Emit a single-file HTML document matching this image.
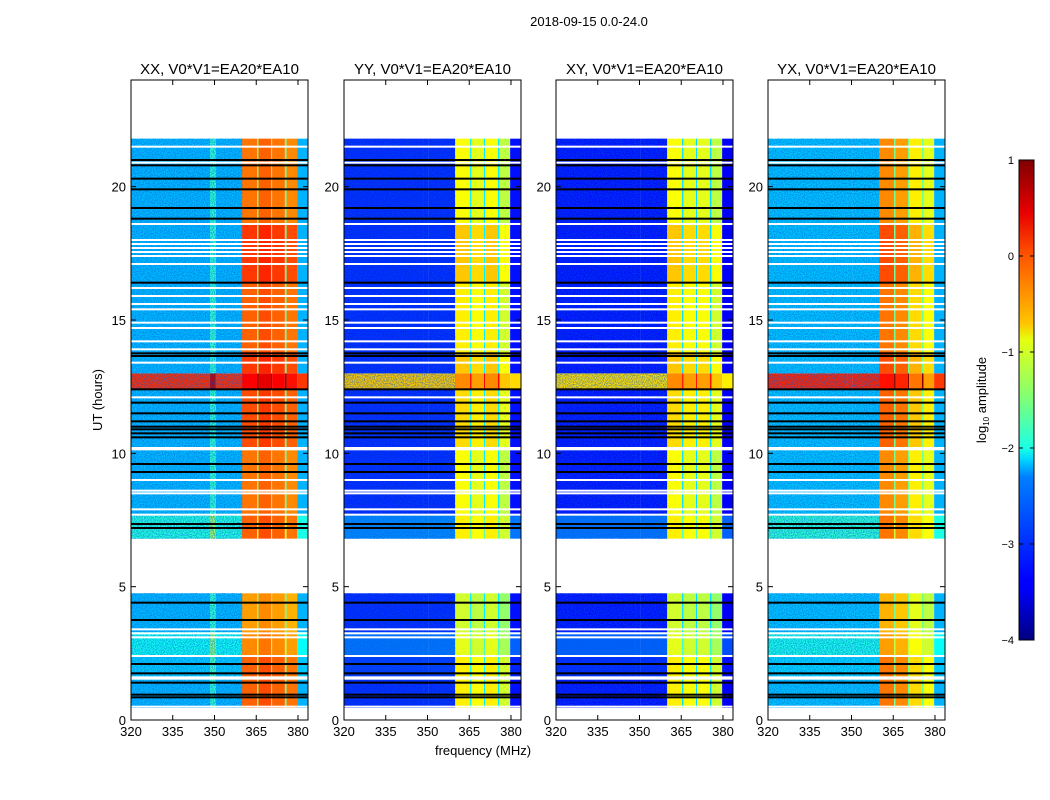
<!DOCTYPE html>
<html><head><meta charset="utf-8"><style>
body{margin:0;background:#fff;}
svg{display:block;font-family:"Liberation Sans","DejaVu Sans",sans-serif;}
</style></head><body>
<svg id="fig" width="1050" height="800" viewBox="0 0 1050 800" xmlns="http://www.w3.org/2000/svg">
<defs>
<filter id="speckle" x="0" y="0" width="100%" height="100%">
<feTurbulence type="fractalNoise" baseFrequency="0.9" numOctaves="1" seed="3"/>
<feColorMatrix type="matrix" values="0 0 0 0 0  0 0 0 0 0.1  0 0 0 0 0.7  0 0 0 -3 1.9"/>
</filter>
<linearGradient id="jetgrad" x1="0" y1="1" x2="0" y2="0">
<stop offset="0" stop-color="#00007f"/><stop offset="0.11" stop-color="#0000ff"/>
<stop offset="0.125" stop-color="#0000ff"/><stop offset="0.34" stop-color="#0080ff"/>
<stop offset="0.375" stop-color="#00d4ff"/><stop offset="0.4" stop-color="#1affe6"/>
<stop offset="0.5" stop-color="#7dff7a"/><stop offset="0.625" stop-color="#e6ff11"/>
<stop offset="0.66" stop-color="#ffc400"/><stop offset="0.8" stop-color="#ff5500"/>
<stop offset="0.89" stop-color="#e80000"/><stop offset="1" stop-color="#7f0000"/>
</linearGradient>
</defs>
<text x="589" y="26" font-size="13" text-anchor="middle">2018-09-15 0.0-24.0</text>
<text x="483" y="755" font-size="13" text-anchor="middle">frequency (MHz)</text>
<text transform="translate(102,400) rotate(-90)" font-size="13" text-anchor="middle">UT (hours)</text>
<g id="panels"></g>
<g id="cbar">
<rect x="1019" y="160" width="15" height="480" fill="url(#jetgrad)" stroke="#000" stroke-width="1"/>
<text transform="translate(986,400) rotate(-90)" font-size="13" text-anchor="middle">log<tspan font-size="8" dy="3">10</tspan><tspan dy="-3"> amplitude</tspan></text>
</g>
</svg>
<script>
// ---- data ----
const panelTitles = ["XX, V0*V1=EA20*EA10","YY, V0*V1=EA20*EA10","XY, V0*V1=EA20*EA10","YX, V0*V1=EA20*EA10"];
const xTicks = [320,335,350,365,380];
const yTicks = [0,5,10,15,20];
const cbarTicks = [1,0,-1,-2,-3,-4];
// frequency columns [start MHz, end MHz]
const colStart = [320, 348.4, 350.5, 359.9, 365.3, 365.8, 370.3, 370.7, 375.3, 375.9, 379.7];
const colEnd   = [348.4, 350.5, 359.9, 365.3, 365.8, 370.3, 370.7, 375.3, 375.9, 379.7, 383.6];
const colIsBand = [0,0,0,1,0,1,0,1,0,1,0];
// per-panel column levels (log10 amplitude)
const levelsXX = [-2.45, -1.9, -2.45, -0.2, -1.5, -0.1, -1.6, -0.2, -1.6, -0.3, -2.5];
const levelsYY = [-3.2, -3.2, -3.2, -0.9, -2.2, -1.0, -2.2, -0.9, -2.2, -1.2, -3.3];
const levelsXY = [-3.3, -3.3, -3.3, -0.9, -2.3, -1.0, -2.3, -1.0, -2.3, -1.2, -3.4];
const levelsYX = [-2.4, -2.4, -2.4, -0.3, -1.6, -0.4, -1.6, -0.8, -1.6, -1.0, -2.5];
// time segments [hours] and offsets
const segStart  = [0.45, 1.5, 2.4, 3.3, 6.8, 7.7, 9.0, 10.2, 12.4, 13.0, 13.8, 16.4, 18.6];
const segEnd    = [1.5, 2.4, 3.3, 4.75, 7.7, 9.0, 10.2, 12.4, 13.0, 13.8, 16.4, 18.6, 21.8];
const segBgOff  = [0, 0.1, 0.4, 0, 0.5, 0, 0, 0, 2.6, 0, 0, 0, 0];
const segBandOff= [0.1, 0.1, -0.1, -0.2, 0.1, 0, 0, 0.2, 0.6, 0.3, 0.1, 0.3, 0];
// flagged rows
const whiteLines = [21.5,20.9,18.6,18.0,17.85,17.7,17.55,17.4,17.1,16.2,15.9,15.6,15.4,14.9,14.7,14.2,13.9,13.4,12.1,10.2,10.15,9.0,8.6,8.5,7.9,7.7,3.4,3.25,3.1,2.4,1.6,1.55,0.5];
const blackLines = [21.0,20.8,20.3,19.9,19.2,18.8,16.4,13.75,13.65,12.4,11.9,11.5,11.2,11.0,10.9,10.75,10.6,9.6,9.3,7.35,7.2,4.4,3.75,2.1,1.75,1.4,0.95,0.85];

const panelX = [131,344,556,768];
const PW = 177, PT = 80, PB = 720;
const allLevels = [levelsXX, levelsYY, levelsXY, levelsYX];
const NS = "http://www.w3.org/2000/svg";
function xs(p, f){ return panelX[p] + (f-320)*PW/63.6; }
function ys(h){ return PB - h*(PB-PT)/24; }
function jet(v){
  let t = Math.max(0, Math.min(1, (v+4)/5));
  const c = x => Math.round(255*Math.max(0, Math.min(1, 1.5 - Math.abs(4*t - x))));
  return `rgb(${c(3)},${c(2)},${c(1)})`;
}
function mk(tag, attrs, parent){
  const e = document.createElementNS(NS, tag);
  for (const k in attrs) e.setAttribute(k, attrs[k]);
  parent.appendChild(e); return e;
}
const root = document.getElementById('panels');
for (let p=0;p<4;p++){
  const g = mk('g',{},root);
  
  
  const hm = mk('g',{},g);
  
  
  const lv = allLevels[p];
  for (let s=0;s<segStart.length;s++){
    for (let c=0;c<colStart.length;c++){
      const v = lv[c] + (colIsBand[c] ? segBandOff[s] : segBgOff[s]);
      const x0 = xs(p,colStart[c]), x1 = xs(p,colEnd[c]);
      const y0 = ys(segEnd[s]), y1 = ys(segStart[s]);
      const r = mk('rect',{x:x0,y:y0,width:x1-x0,height:y1-y0,fill:jet(v)},hm);
      
      
    }
    const nz = mk('rect',{x:xs(p,320),y:ys(segEnd[s]),width:xs(p,359.9)-xs(p,320),height:ys(segStart[s])-ys(segEnd[s]),filter:'url(#speckle)',opacity:0.55},hm);
    
    
  }
  for (const h of whiteLines){
    const l = mk('rect',{x:panelX[p],y:ys(h)-1,width:PW,height:2,fill:'#fff'},hm);
    
    
  }
  for (const h of blackLines){
    const l = mk('rect',{x:panelX[p],y:ys(h)-1,width:PW,height:2,fill:'#000'},hm);
    
    
  }
  const frame = mk('rect',{x:panelX[p],y:PT,width:PW,height:PB-PT,fill:'none',stroke:'#000','stroke-width':1},g);
  
  
  const t = mk('text',{x:panelX[p]+PW/2,y:74,'font-size':15,'text-anchor':'middle'},g);
  t.textContent = panelTitles[p];
  
  
  for (const f of xTicks){
    const x = xs(p,f);
    mk('line',{x1:x,x2:x,y1:PB,y2:PB-5,stroke:'#000'},g);
    mk('line',{x1:x,x2:x,y1:PT,y2:PT+5,stroke:'#000'},g);
    const tl = mk('text',{x:x,y:PB+16,'font-size':13,'text-anchor':'middle'},g);
    tl.textContent = f;
    
    
  }
  for (const h of yTicks){
    const y = ys(h);
    mk('line',{x1:panelX[p],x2:panelX[p]+5,y1:y,y2:y,stroke:'#000'},g);
    mk('line',{x1:panelX[p]+PW,x2:panelX[p]+PW-5,y1:y,y2:y,stroke:'#000'},g);
    const tl = mk('text',{x:panelX[p]-5,y:y+5,'font-size':13,'text-anchor':'end'},g);
    tl.textContent = h;
    
    
  }
}
const cb = document.getElementById('cbar');
for (const v of cbarTicks){
  const y = 640 - (v+4)*480/5;
  mk('line',{x1:1019,x2:1023,y1:y,y2:y,stroke:'#000'},cb);
  mk('line',{x1:1034,x2:1030,y1:y,y2:y,stroke:'#000'},cb);
  const tl = mk('text',{x:1014,y:y+4,'font-size':11,'text-anchor':'end'},cb);
  tl.textContent = v<0 ? '\u2212'+(-v) : v;
  
  
}
</script>
</body></html>
